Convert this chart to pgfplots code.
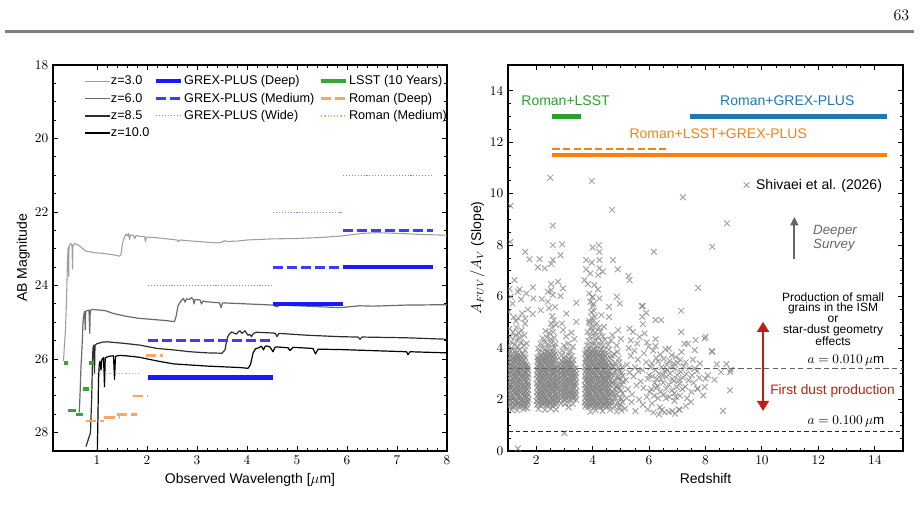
\documentclass[border=0pt]{standalone}
\usepackage{fontspec}
\setmainfont{Liberation Sans}
\usepackage{pgfplots}
\pgfplotsset{compat=1.18}
\usetikzlibrary{arrows.meta}
\definecolor{grexblue}{RGB}{25,25,255}
\definecolor{grexmed}{RGB}{60,60,255}
\definecolor{grexwide}{RGB}{130,130,255}
\definecolor{lsstgreen}{RGB}{55,165,55}
\definecolor{romanor}{RGB}{255,165,95}
\definecolor{tabblue}{RGB}{31,119,180}
\definecolor{taborange}{RGB}{255,127,14}
\definecolor{tabgreen}{RGB}{44,160,44}
\definecolor{darkred}{RGB}{190,30,20}
\pgfplotsset{
  myax/.style={scale only axis, axis line style={line width=0.8pt},
    every tick/.style={line width=0.7pt, black}, major tick length=4pt, minor tick length=2.2pt,
    tick align=inside, xtick pos=both, ytick pos=both,
    xticklabel pos=bottom, yticklabel pos=left,
    tick label style={font=\fontsize{10}{12}\selectfont},
    label style={font=\fontsize{10.5}{12}\selectfont}, ylabel shift=-3pt},
  z3/.style={color=black!38, line width=0.8pt, line join=round},
  z6/.style={color=black!58, line width=0.9pt, line join=round},
  z85/.style={color=black!82, line width=0.9pt, line join=round},
  z10/.style={color=black, line width=0.9pt, line join=round},
  gdeep/.style={color=grexblue, line width=3.2pt},
  gmed/.style={color=grexmed, line width=2pt, dash pattern=on 7.5pt off 3pt},
  gwide/.style={color=grexwide, line width=0.8pt, dash pattern=on 0.8pt off 1.4pt},
  lsst/.style={color=lsstgreen, line width=2.6pt},
  rdeep/.style={color=romanor, line width=2pt, dash pattern=on 7.5pt off 3pt},
  rmed/.style={color=romanor, line width=0.9pt, dash pattern=on 0.8pt off 1.6pt},
}
\begin{document}
\begin{tikzpicture}
\useasboundingbox (0,0) rectangle (690.75pt,394.5pt);
\draw[line width=1.9pt, black!50] (3.5pt,371pt) -- (685.5pt,371pt);
\node at (676pt,383pt) {\fontsize{13}{15}\selectfont $63$};
% ================= LEFT =================
\begin{axis}[myax, at={(39.75pt,345.75pt)}, anchor=north west,
  width=295.5pt, height=289.5pt,
  xmin=0.12, xmax=8, ymin=18, ymax=28.5, y dir=reverse,
  xtick={1,2,...,8}, minor x tick num=4,
  ytick={18,20,...,28}, minor y tick num=3,
  xlabel={Observed Wavelength [$\mu\mathrm{m}$]}, ylabel={AB Magnitude},
  legend columns=3, legend cell align=left,
  legend image code/.code={\draw[#1] (0pt,0pt) -- (18.75pt,0pt);},
  legend style={draw=none, fill=none, at={(0.078,0.975)}, anchor=north west,
    font=\fontsize{9.5}{11}\selectfont, inner sep=0pt, row sep=3.4pt,
    nodes={inner sep=0.6pt},
    /tikz/every even column/.append style={column sep=3pt}},
]
\addlegendimage{z3}\addlegendentry{z=3.0}
\addlegendimage{gdeep}\addlegendentry{GREX-PLUS (Deep)}
\addlegendimage{lsst,line width=3pt}\addlegendentry{LSST (10 Years)}
\addlegendimage{z6}\addlegendentry{z=6.0}
\addlegendimage{gmed}\addlegendentry{GREX-PLUS (Medium)}
\addlegendimage{rdeep}\addlegendentry{Roman (Deep)}
\addlegendimage{z85}\addlegendentry{z=8.5}
\addlegendimage{gwide}\addlegendentry{GREX-PLUS (Wide)}
\addlegendimage{rmed}\addlegendentry{Roman (Medium)}
\addlegendimage{z10}\addlegendentry{z=10.0}
% spectra
\addplot[z3] coordinates {(0.33,26.05) (0.35,25.6) (0.37,25.2) (0.39,24.4) (0.41,23.3) (0.42,23.0) (0.43,22.95) (0.435,23.75) (0.44,22.95) (0.46,22.88) (0.48,22.86) (0.50,22.9) (0.51,23.55) (0.52,22.9) (0.56,22.86) (0.62,22.89) (0.70,22.98) (0.77,23.06) (0.85,23.08) (0.97,23.11) (1.10,23.12) (1.20,23.14) (1.35,23.17) (1.45,23.2) (1.48,23.15) (1.51,22.85) (1.55,22.68) (1.58,22.6) (1.61,22.65) (1.63,22.58) (1.65,22.75) (1.67,22.62) (1.72,22.63) (1.76,22.72) (1.78,22.64) (1.85,22.66) (1.95,22.67) (1.97,22.8) (1.99,22.68) (2.2,22.7) (2.6,22.76) (2.63,22.81) (2.66,22.76) (3.0,22.8) (3.4,22.84) (3.5,22.82) (3.55,22.78) (3.6,22.8) (3.8,22.79) (4.0,22.76) (4.5,22.73) (5.0,22.72) (5.5,22.69) (5.9,22.65) (6.3,22.58) (6.6,22.56) (7.0,22.58) (7.5,22.61) (8.0,22.63)};
\addplot[z6] coordinates {(0.645,27.45) (0.66,27.0) (0.68,26.2) (0.70,25.7) (0.72,25.0) (0.74,24.76) (0.755,24.7) (0.765,25.2) (0.775,24.7) (0.80,24.68) (0.84,24.67) (0.855,25.3) (0.865,24.67) (0.91,24.65) (1.0,24.66) (1.16,24.68) (1.33,24.76) (1.56,24.83) (1.83,24.89) (2.1,24.92) (2.36,24.95) (2.55,24.98) (2.58,24.85) (2.62,24.55) (2.68,24.42) (2.73,24.35) (2.76,24.45) (2.79,24.36) (2.84,24.38) (2.89,24.33) (2.92,24.36) (2.94,24.5) (2.96,24.38) (3.06,24.39) (3.09,24.5) (3.12,24.42) (3.19,24.44) (3.45,24.47) (3.48,24.6) (3.51,24.47) (3.86,24.49) (4.52,24.53) (4.6,24.58) (4.65,24.53) (5.19,24.56) (5.86,24.6) (6.25,24.55) (6.52,24.56) (7.2,24.53) (8.0,24.52)};
\addplot[z85] coordinates {(0.78,28.38) (0.87,28.0) (0.895,27.0) (0.91,26.0) (0.92,25.7) (0.935,25.62) (0.95,26.4) (0.96,25.62) (1.0,25.58) (1.03,25.57) (1.1,25.54) (1.2,25.53) (1.53,25.57) (1.86,25.62) (2.2,25.71) (2.53,25.75) (2.86,25.8) (3.2,25.83) (3.5,25.84) (3.56,25.75) (3.6,25.45) (3.63,25.35) (3.69,25.26) (3.75,25.3) (3.79,25.32) (3.83,25.25) (3.86,25.23) (3.9,25.3) (3.96,25.23) (4.02,25.35) (4.06,25.33) (4.09,25.39) (4.13,25.3) (4.19,25.27) (4.52,25.29) (4.57,25.3) (4.6,25.39) (4.64,25.3) (5.19,25.35) (5.86,25.39) (6.22,25.4) (6.26,25.46) (6.3,25.4) (7.19,25.42) (8.0,25.46)};
\addplot[z10] coordinates {(1.005,28.6) (1.02,27.5) (1.03,26.57) (1.045,26.15) (1.06,26.05) (1.08,26.3) (1.10,26.0) (1.13,25.96) (1.15,26.75) (1.165,25.97) (1.19,25.95) (1.25,25.92) (1.33,25.91) (1.35,26.55) (1.37,25.92) (1.45,25.9) (1.58,25.91) (1.85,25.95) (2.2,26.05) (2.53,26.13) (3.2,26.19) (3.86,26.23) (4.02,26.25) (4.07,26.15) (4.12,25.84) (4.17,25.72) (4.22,25.7) (4.29,25.65) (4.33,25.75) (4.36,25.66) (4.39,25.64) (4.46,25.67) (4.52,25.8) (4.56,25.68) (4.59,25.67) (4.82,25.69) (4.86,25.77) (4.92,25.68) (5.32,25.71) (5.37,25.86) (5.42,25.73) (5.86,25.74) (6.52,25.77) (7.19,25.8) (7.22,25.88) (7.26,25.8) (8.0,25.83)};
% GREX-PLUS
\addplot[gwide] coordinates {(2.02,24.0) (4.52,24.0)};
\addplot[gwide] coordinates {(4.52,22.0) (5.92,22.0)};
\addplot[gwide] coordinates {(5.92,21.0) (7.72,21.0)};
\addplot[gmed] coordinates {(2.02,25.5) (4.52,25.5)};
\addplot[gmed] coordinates {(4.52,23.5) (5.92,23.5)};
\addplot[gmed] coordinates {(5.92,22.5) (7.72,22.5)};
\addplot[gdeep] coordinates {(2.02,26.5) (4.52,26.5)};
\addplot[gdeep] coordinates {(4.52,24.5) (5.92,24.5)};
\addplot[gdeep] coordinates {(5.92,23.5) (7.72,23.5)};
% LSST
\addplot[lsst] coordinates {(0.35,26.1) (0.43,26.1)};
\addplot[lsst] coordinates {(0.42,27.4) (0.58,27.4)};
\addplot[lsst] coordinates {(0.58,27.5) (0.72,27.5)};
\addplot[lsst] coordinates {(0.72,26.81) (0.85,26.81)};
\addplot[lsst] coordinates {(0.85,26.1) (0.95,26.1)};
% Roman
\addplot[rdeep] coordinates {(0.79,27.68) (1.15,27.68)};
\addplot[rdeep] coordinates {(1.15,27.59) (1.45,27.59)};
\addplot[rdeep] coordinates {(1.40,27.5) (1.80,27.5)};
\addplot[rdeep] coordinates {(1.71,27.0) (2.01,27.0)};
\addplot[rdeep] coordinates {(1.97,25.9) (2.32,25.9)};
\addplot[rmed] coordinates {(0.93,26.4) (1.85,26.4)};
\end{axis}
% ================= RIGHT =================
\begin{axis}[myax, at={(381pt,345.75pt)}, anchor=north west,
  width=296.25pt, height=289.5pt,
  xmin=1, xmax=15, ymin=0, ymax=15,
  xtick={2,4,...,14}, minor x tick num=3,
  ytick={0,2,...,14}, minor y tick num=3,
  xlabel={Redshift}, ylabel={$A_{FUV}/A_V$ (Slope)},
  clip marker paths=true,
  legend image code/.code={\draw[#1] plot coordinates {(0pt,0pt)};},
  legend style={draw=none, fill=none, at={(0.596,0.689)}, anchor=west,
    font=\fontsize{10.5}{12}\selectfont, inner sep=0pt,
    nodes={inner sep=0.6pt},
    /tikz/every odd column/.append style={column sep=4.5pt}},
]
\addplot[only marks, mark=x, mark size=3pt, color=black!48, opacity=0.74, mark options={line width=0.75pt}] coordinates {
(1.05,1.74) (1.17,1.70) (1.26,1.76) (1.39,1.71) (1.51,1.75) (1.62,1.69)
(1.03,1.89) (1.14,1.86) (1.28,1.90) (1.37,1.87) (1.49,1.91) (1.60,1.86) (1.70,1.90)
(1.06,2.02) (1.16,2.05) (1.27,2.01) (1.40,2.04) (1.50,2.02) (1.63,2.05) (1.72,2.01)
(1.02,2.20) (1.15,2.17) (1.26,2.21) (1.38,2.18) (1.52,2.20) (1.61,2.17) (1.71,2.21)
(1.05,2.34) (1.17,2.37) (1.29,2.33) (1.36,2.36) (1.48,2.35) (1.62,2.33) (1.70,2.37)
(1.03,2.51) (1.14,2.48) (1.27,2.52) (1.39,2.49) (1.51,2.53) (1.60,2.48) (1.72,2.51)
(1.06,2.65) (1.16,2.68) (1.28,2.64) (1.37,2.67) (1.49,2.65) (1.63,2.68) (1.71,2.64)
(1.02,2.83) (1.15,2.80) (1.26,2.84) (1.40,2.81) (1.50,2.83) (1.61,2.80) (1.70,2.84)
(1.05,2.97) (1.17,3.00) (1.29,2.96) (1.38,2.99) (1.52,2.97) (1.62,3.00) (1.72,2.96)
(1.03,3.14) (1.14,3.11) (1.27,3.15) (1.36,3.12) (1.48,3.14) (1.60,3.11) (1.71,3.15)
(1.06,3.28) (1.16,3.31) (1.28,3.27) (1.39,3.30) (1.51,3.28) (1.63,3.31) (1.70,3.27)
(1.02,3.46) (1.15,3.43) (1.26,3.47) (1.40,3.44) (1.50,3.46) (1.61,3.43)
(1.05,3.60) (1.17,3.63) (1.29,3.59) (1.37,3.62) (1.49,3.60) (1.62,3.63)
(1.03,3.78) (1.14,3.75) (1.28,3.79) (1.38,3.76) (1.52,3.78)
(1.06,3.91) (1.16,3.94) (1.27,3.90) (1.41,3.93) (1.60,3.92)
(1.09,1.81) (1.21,1.79) (1.33,1.82) (1.44,1.80) (1.56,1.78) (1.67,1.81)
(1.10,1.96) (1.22,1.98) (1.32,1.95) (1.45,1.97) (1.55,1.96) (1.66,1.94)
(1.08,2.12) (1.20,2.10) (1.34,2.13) (1.43,2.11) (1.57,2.12) (1.68,2.10)
(1.11,2.27) (1.21,2.29) (1.33,2.26) (1.44,2.28) (1.56,2.27) (1.67,2.25)
(1.09,2.43) (1.23,2.41) (1.32,2.44) (1.45,2.42) (1.55,2.43) (1.66,2.41)
(1.10,2.58) (1.20,2.60) (1.34,2.57) (1.43,2.59) (1.57,2.58) (1.68,2.56)
(1.08,2.74) (1.22,2.72) (1.33,2.75) (1.44,2.73) (1.56,2.74) (1.67,2.72)
(1.11,2.90) (1.21,2.92) (1.32,2.89) (1.45,2.91) (1.55,2.90) (1.66,2.88)
(1.09,3.05) (1.23,3.03) (1.34,3.06) (1.43,3.04) (1.57,3.05) (1.68,3.03)
(1.10,3.21) (1.20,3.23) (1.33,3.20) (1.44,3.22) (1.56,3.21) (1.67,3.19)
(1.08,3.37) (1.22,3.35) (1.32,3.38) (1.45,3.36) (1.55,3.37) (1.66,3.35)
(1.11,3.53) (1.21,3.55) (1.34,3.52) (1.43,3.54) (1.57,3.53)
(1.09,3.69) (1.23,3.67) (1.33,3.70) (1.44,3.68) (1.56,3.69)
(1.04,4.08) (1.22,4.12) (1.35,4.05) (1.55,4.10) (1.12,4.25) (1.30,4.30) (1.47,4.22) (1.66,4.18)
(1.08,4.42) (1.25,4.48) (1.42,4.40) (1.18,4.62) (1.38,4.58) (1.58,4.50) (1.05,4.75) (1.30,4.80)
(1.48,4.70) (1.12,1.60) (1.33,1.58) (1.55,1.62) (1.68,1.66)
(1.10,5.99) (1.16,5.73) (1.23,6.64) (1.35,6.19) (1.37,5.15) (1.46,5.89) (1.61,5.15) (1.61,7.74)
(1.76,7.45) (1.88,6.36) (1.90,5.93) (1.88,5.32) (1.09,9.53) (1.08,8.13) (1.02,5.40) (1.20,5.20)
(1.50,5.35) (1.28,5.05) (1.60,4.95) (1.70,5.50) (1.05,6.30) (1.35,0.10) (1.41,6.28) (1.65,6.12)
(2.08,1.63) (2.31,1.60) (2.52,1.64) (2.70,1.61)
(2.03,1.79) (2.15,1.76) (2.26,1.80) (2.37,1.77) (2.47,1.81) (2.58,1.76) (2.69,1.79)
(2.01,1.94) (2.12,1.97) (2.23,1.93) (2.36,1.96) (2.45,1.94) (2.56,1.97) (2.67,1.93) (2.79,1.96)
(2.04,2.13) (2.14,2.10) (2.25,2.14) (2.34,2.11) (2.47,2.13) (2.58,2.10) (2.69,2.14) (2.77,2.11)
(2.02,2.28) (2.13,2.31) (2.24,2.27) (2.36,2.30) (2.46,2.28) (2.57,2.31) (2.68,2.27) (2.80,2.30)
(2.05,2.47) (2.15,2.44) (2.26,2.48) (2.35,2.45) (2.48,2.47) (2.59,2.44) (2.70,2.48) (2.78,2.45)
(2.01,2.62) (2.12,2.65) (2.23,2.61) (2.37,2.64) (2.45,2.62) (2.56,2.65) (2.67,2.61) (2.79,2.64)
(2.04,2.81) (2.14,2.78) (2.25,2.82) (2.34,2.79) (2.47,2.81) (2.58,2.78) (2.69,2.82) (2.77,2.79)
(2.02,2.96) (2.13,2.99) (2.24,2.95) (2.36,2.98) (2.46,2.96) (2.57,2.99) (2.68,2.95) (2.80,2.98)
(2.05,3.15) (2.15,3.12) (2.26,3.16) (2.35,3.13) (2.48,3.15) (2.59,3.12) (2.70,3.16) (2.78,3.13)
(2.03,3.30) (2.12,3.33) (2.23,3.29) (2.37,3.32) (2.45,3.30) (2.56,3.33) (2.67,3.29) (2.79,3.32)
(2.06,3.49) (2.14,3.46) (2.25,3.50) (2.34,3.47) (2.47,3.49) (2.58,3.46) (2.69,3.50)
(2.04,3.64) (2.13,3.67) (2.24,3.63) (2.36,3.66) (2.46,3.64) (2.57,3.67) (2.68,3.63)
(2.11,3.83) (2.27,3.80) (2.38,3.84) (2.49,3.81) (2.60,3.83) (2.71,3.80)
(2.07,3.98) (2.21,4.01) (2.33,3.97) (2.45,4.00) (2.58,3.98) (2.66,4.02)
(2.08,1.87) (2.19,1.85) (2.30,1.88) (2.41,1.86) (2.52,1.87) (2.63,1.85) (2.74,1.88)
(2.07,2.04) (2.20,2.02) (2.31,2.05) (2.40,2.03) (2.53,2.04) (2.62,2.02) (2.73,2.05)
(2.09,2.21) (2.18,2.19) (2.29,2.22) (2.42,2.20) (2.51,2.21) (2.64,2.19) (2.75,2.22)
(2.08,2.38) (2.19,2.36) (2.30,2.39) (2.41,2.37) (2.52,2.38) (2.63,2.36) (2.74,2.39)
(2.07,2.55) (2.20,2.53) (2.31,2.56) (2.40,2.54) (2.53,2.55) (2.62,2.53) (2.73,2.56)
(2.09,2.72) (2.18,2.70) (2.29,2.73) (2.42,2.71) (2.51,2.72) (2.64,2.70) (2.75,2.73)
(2.08,2.89) (2.19,2.87) (2.30,2.90) (2.41,2.88) (2.52,2.89) (2.63,2.87) (2.74,2.90)
(2.07,3.06) (2.20,3.04) (2.31,3.07) (2.40,3.05) (2.53,3.06) (2.62,3.04) (2.73,3.07)
(2.09,3.23) (2.18,3.21) (2.29,3.24) (2.42,3.22) (2.51,3.23) (2.64,3.21) (2.75,3.24)
(2.08,3.40) (2.19,3.38) (2.30,3.41) (2.41,3.39) (2.52,3.40) (2.63,3.38)
(2.07,3.57) (2.20,3.55) (2.31,3.58) (2.40,3.56) (2.53,3.57) (2.62,3.55)
(2.18,3.74) (2.29,3.72) (2.42,3.75) (2.51,3.73) (2.64,3.74)
(2.15,4.18) (2.30,4.22) (2.42,4.15) (2.55,4.20) (2.68,4.17) (2.22,4.38) (2.38,4.42) (2.52,4.35)
(2.64,4.40) (2.47,4.58) (2.60,4.62) (2.33,4.66) (2.55,4.80) (2.63,5.08) (2.67,5.60) (2.57,5.24)
(2.41,5.80) (2.16,5.47) (2.53,4.95) (2.70,4.90)
(2.50,10.62) (2.59,8.76) (2.59,8.00) (2.12,7.45) (2.06,7.14) (2.30,7.10) (2.59,7.42) (2.53,7.27)
(2.77,6.58) (2.53,6.49) (2.53,6.25) (2.41,6.19) (2.59,6.06) (2.86,6.02) (2.86,7.61) (2.92,8.03)
(2.95,6.32) (2.20,5.90) (2.45,5.55)
(2.88,1.85) (3.02,1.82) (3.15,1.86) (3.30,1.83)
(2.86,2.02) (2.98,1.99) (3.09,2.03) (3.20,2.00) (3.31,2.02) (3.41,1.99)
(2.89,2.17) (2.99,2.20) (3.10,2.16) (3.21,2.19) (3.32,2.17) (3.40,2.20)
(2.87,2.36) (2.97,2.33) (3.08,2.37) (3.19,2.34) (3.29,2.36) (3.42,2.33)
(2.85,2.51) (2.96,2.54) (3.07,2.50) (3.18,2.53) (3.31,2.51) (3.39,2.54)
(2.88,2.70) (2.99,2.67) (3.11,2.71) (3.20,2.68) (3.30,2.70) (3.41,2.67)
(2.86,2.85) (2.97,2.88) (3.09,2.84) (3.21,2.87) (3.32,2.85) (3.40,2.88)
(2.89,3.04) (2.98,3.01) (3.10,3.05) (3.19,3.02) (3.29,3.04) (3.42,3.01)
(2.87,3.19) (2.99,3.22) (3.08,3.18) (3.20,3.21) (3.31,3.19) (3.39,3.22)
(2.85,3.38) (2.96,3.35) (3.11,3.39) (3.21,3.36) (3.30,3.38)
(2.88,3.53) (3.00,3.56) (3.09,3.52) (3.19,3.55) (3.32,3.53)
(2.90,3.72) (3.04,3.69) (3.16,3.73) (3.27,3.70)
(2.92,2.10) (3.03,2.08) (3.14,2.11) (3.25,2.09) (3.36,2.10)
(2.91,2.27) (3.04,2.25) (3.15,2.28) (3.24,2.26) (3.37,2.27)
(2.93,2.44) (3.02,2.42) (3.13,2.45) (3.26,2.43) (3.35,2.44)
(2.92,2.61) (3.03,2.59) (3.14,2.62) (3.25,2.60) (3.36,2.61)
(2.91,2.78) (3.04,2.76) (3.15,2.79) (3.24,2.77) (3.37,2.78)
(2.93,2.95) (3.02,2.93) (3.13,2.96) (3.26,2.94) (3.35,2.95)
(2.92,3.12) (3.03,3.10) (3.14,3.13) (3.25,3.11) (3.36,3.12)
(2.91,3.29) (3.04,3.27) (3.15,3.30) (3.24,3.28)
(2.93,3.46) (3.02,3.44) (3.13,3.47) (3.26,3.45)
(2.92,3.90) (3.07,3.95) (3.22,3.88) (2.98,4.10) (3.14,4.18) (3.30,4.05) (2.91,4.95) (3.07,5.34)
(3.42,5.02) (3.42,5.76) (3.06,4.45) (3.25,4.60) (3.35,4.35) (2.95,4.70) (3.15,1.70) (3.00,0.70)
(3.92,1.52) (4.10,1.58) (4.35,1.55) (4.62,1.60) (4.85,1.53) (5.02,1.57)
(3.74,1.73) (3.85,1.70) (3.95,1.74) (4.06,1.71) (4.17,1.75) (4.28,1.70) (4.39,1.73) (4.50,1.71) (4.61,1.74) (4.78,1.72) (4.95,1.70)
(3.72,1.88) (3.83,1.91) (3.94,1.87) (4.05,1.90) (4.16,1.88) (4.27,1.91) (4.38,1.87) (4.49,1.90) (4.60,1.88) (4.72,1.91) (4.88,1.87) (5.05,1.90)
(3.75,2.07) (3.84,2.04) (3.96,2.08) (4.04,2.05) (4.18,2.07) (4.26,2.04) (4.40,2.08) (4.48,2.05) (4.62,2.07) (4.80,2.05) (4.97,2.08)
(3.73,2.22) (3.82,2.25) (3.93,2.21) (4.07,2.24) (4.15,2.22) (4.29,2.25) (4.37,2.21) (4.51,2.24) (4.59,2.22) (4.73,2.25) (4.86,2.21) (5.06,2.24)
(3.76,2.41) (3.85,2.38) (3.95,2.42) (4.05,2.39) (4.17,2.41) (4.28,2.38) (4.39,2.42) (4.50,2.39) (4.61,2.41) (4.79,2.39) (4.94,2.42)
(3.72,2.56) (3.83,2.59) (3.94,2.55) (4.06,2.58) (4.16,2.56) (4.27,2.59) (4.38,2.55) (4.49,2.58) (4.60,2.56) (4.71,2.59) (4.87,2.55) (5.03,2.58)
(3.74,2.75) (3.84,2.72) (3.96,2.76) (4.04,2.73) (4.18,2.75) (4.26,2.72) (4.40,2.76) (4.48,2.73) (4.62,2.75) (4.78,2.73) (4.96,2.76)
(3.73,2.90) (3.82,2.93) (3.93,2.89) (4.07,2.92) (4.15,2.90) (4.29,2.93) (4.37,2.89) (4.51,2.92) (4.59,2.90) (4.74,2.93) (4.89,2.89) (5.07,2.92)
(3.75,3.09) (3.85,3.06) (3.95,3.10) (4.05,3.07) (4.17,3.09) (4.28,3.06) (4.39,3.10) (4.50,3.07) (4.61,3.09) (4.80,3.07) (4.98,3.10)
(3.72,3.24) (3.83,3.27) (3.94,3.23) (4.06,3.26) (4.16,3.24) (4.27,3.27) (4.38,3.23) (4.49,3.26) (4.60,3.24) (4.72,3.27) (4.90,3.23) (5.05,3.26)
(3.74,3.43) (3.84,3.40) (3.96,3.44) (4.04,3.41) (4.18,3.43) (4.26,3.40) (4.40,3.44) (4.48,3.41) (4.63,3.43) (4.81,3.41)
(3.76,3.58) (3.82,3.61) (3.93,3.57) (4.07,3.60) (4.15,3.58) (4.29,3.61) (4.37,3.57) (4.51,3.60) (4.66,3.58) (4.92,3.60)
(3.73,3.77) (3.85,3.74) (3.95,3.78) (4.05,3.75) (4.17,3.77) (4.28,3.74) (4.39,3.78) (4.52,3.75) (4.75,3.77)
(3.78,3.92) (3.86,3.95) (3.97,3.91) (4.06,3.94) (4.16,3.92) (4.30,3.95) (4.41,3.91) (4.58,3.94)
(3.80,4.11) (3.92,4.08) (4.03,4.12) (4.14,4.09) (4.26,4.11) (4.38,4.08) (4.55,4.12) (4.85,4.10)
(3.78,1.80) (3.89,1.78) (4.00,1.81) (4.11,1.79) (4.22,1.80) (4.33,1.78) (4.44,1.81) (4.55,1.79)
(3.77,1.97) (3.90,1.95) (4.01,1.98) (4.10,1.96) (4.23,1.97) (4.32,1.95) (4.45,1.98) (4.54,1.96)
(3.79,2.14) (3.88,2.12) (3.99,2.15) (4.12,2.13) (4.21,2.14) (4.34,2.12) (4.43,2.15) (4.56,2.13)
(3.78,2.31) (3.89,2.29) (4.00,2.32) (4.11,2.30) (4.22,2.31) (4.33,2.29) (4.44,2.32) (4.55,2.30)
(3.77,2.48) (3.90,2.46) (4.01,2.49) (4.10,2.47) (4.23,2.48) (4.32,2.46) (4.45,2.49) (4.54,2.47)
(3.79,2.65) (3.88,2.63) (3.99,2.66) (4.12,2.64) (4.21,2.65) (4.34,2.63) (4.43,2.66) (4.56,2.64)
(3.78,2.82) (3.89,2.80) (4.00,2.83) (4.11,2.81) (4.22,2.82) (4.33,2.80) (4.44,2.83) (4.55,2.81)
(3.77,2.99) (3.90,2.97) (4.01,3.00) (4.10,2.98) (4.23,2.99) (4.32,2.97) (4.45,3.00) (4.54,2.98)
(3.79,3.16) (3.88,3.14) (3.99,3.17) (4.12,3.15) (4.21,3.16) (4.34,3.14) (4.43,3.17) (4.56,3.15)
(3.78,3.33) (3.89,3.31) (4.00,3.34) (4.11,3.32) (4.22,3.33) (4.33,3.31) (4.44,3.34) (4.55,3.32)
(3.77,3.50) (3.90,3.48) (4.01,3.51) (4.10,3.49) (4.23,3.50) (4.32,3.48) (4.45,3.51)
(3.79,3.67) (3.88,3.65) (3.99,3.68) (4.12,3.66) (4.21,3.67) (4.34,3.65) (4.43,3.68)
(3.78,3.84) (3.89,3.82) (4.00,3.85) (4.11,3.83) (4.22,3.84) (4.33,3.82)
(4.66,1.95) (4.77,2.15) (4.68,2.32) (4.85,2.48) (4.70,2.68) (4.92,2.82) (4.66,2.98) (4.84,3.15)
(4.70,3.35) (4.95,3.45) (4.68,3.70) (4.88,3.85) (5.02,2.02) (5.00,2.35) (5.08,2.70) (5.02,3.02) (4.98,1.80)
(3.85,4.28) (4.00,4.25) (4.12,4.30) (4.30,4.27) (4.44,4.32) (3.90,4.45) (4.05,4.48) (4.20,4.42)
(4.36,4.46) (3.82,4.62) (3.98,4.66) (4.10,4.60) (4.28,4.64) (3.93,4.80) (4.04,4.84) (4.22,4.78)
(4.40,4.83) (3.88,4.98) (4.01,5.02) (4.15,4.96) (3.97,5.18) (4.08,5.22) (4.31,5.28) (3.95,5.40)
(4.04,5.45) (4.00,5.62) (3.92,5.80) (4.03,5.72) (3.99,5.98) (4.58,5.21) (4.58,5.60) (4.70,4.50)
(4.90,4.70) (4.65,4.30) (5.00,4.35) (4.96,5.73) (4.86,5.99) (4.72,7.42) (4.89,7.06) (4.69,9.37)
(4.36,6.97) (4.19,6.84) (4.24,7.42) (4.24,7.74) (4.22,8.00) (4.00,7.91) (3.97,10.49) (3.77,7.42)
(3.77,7.06) (3.97,7.32) (3.92,6.90) (3.71,6.64) (3.83,6.49) (4.06,6.45) (4.19,6.28) (3.88,6.12)
(4.00,5.99) (4.24,5.93) (3.88,5.06) (4.24,7.10)
(5.15,1.65) (5.20,2.05) (5.25,2.40) (5.18,2.75) (5.30,3.05) (5.22,3.35) (5.35,3.70) (5.28,4.00)
(5.40,2.20) (5.45,2.90) (5.50,3.25) (5.38,1.90) (5.55,2.55) (5.60,3.55) (5.48,3.90) (5.65,2.00)
(5.62,3.10) (5.70,2.70) (5.52,1.55) (5.27,6.80) (5.31,6.64) (5.31,4.76) (5.43,4.63) (5.66,4.43)
(5.74,5.63) (5.35,4.30) (5.58,4.18)
(5.78,1.80) (5.92,2.10) (5.80,2.45) (5.95,2.80) (5.76,3.15) (5.90,3.45) (5.82,3.80) (5.98,4.05)
(5.84,4.57) (5.92,4.22) (6.10,1.85) (6.18,2.15) (6.08,2.40) (6.20,2.65) (6.12,2.90) (6.22,3.15)
(6.10,3.40) (6.25,3.62) (6.15,3.90) (6.23,4.35) (6.23,4.08) (6.32,2.05) (6.40,2.30) (6.30,2.52)
(6.42,2.78) (6.35,3.00) (6.44,3.25) (6.32,3.48) (6.40,3.75) (6.45,1.60) (6.38,1.70) (6.52,2.20)
(6.60,2.42) (6.50,2.65) (6.62,2.88) (6.55,3.10) (6.63,3.35) (6.52,3.58) (6.58,3.95) (6.55,1.50)
(6.70,1.52) (6.72,2.10) (6.80,2.35) (6.70,2.58) (6.82,2.80) (6.75,3.02) (6.84,3.28) (6.72,3.50)
(6.80,3.72) (6.70,3.98) (6.92,1.45) (6.90,2.25) (6.98,2.48) (6.88,2.72) (7.00,2.95) (6.93,3.18)
(7.02,3.42) (6.95,3.65) (6.90,1.95) (7.08,1.60) (7.10,2.15) (7.18,2.40) (7.08,2.62) (7.20,2.85)
(7.12,3.08) (7.22,3.30) (7.10,3.55) (7.15,3.85) (7.30,1.75) (7.35,2.05) (7.28,2.50) (7.40,2.75)
(7.32,3.00) (7.42,3.22) (7.30,3.45) (7.38,4.17) (7.26,4.17) (7.50,2.30) (7.58,2.65) (7.52,2.95)
(7.62,3.20) (7.55,3.55) (7.48,1.90) (7.62,3.92) (7.65,4.31) (7.72,2.42) (7.78,2.85) (7.70,3.10)
(7.80,3.40) (7.14,4.63) (7.14,5.45) (6.23,5.09) (6.43,5.09) (5.90,5.37) (5.76,5.22) (5.78,4.93)
(5.78,5.63) (6.17,7.74) (7.20,9.86) (7.74,6.34) (8.24,7.94) (8.76,8.85) (7.97,4.37) (8.24,3.85)
(8.40,3.37) (8.55,3.07) (8.87,3.07) (8.87,2.36) (8.62,1.56) (8.08,2.94) (8.32,2.77) (8.00,2.81)
(7.92,2.16) (7.71,2.42) (7.97,2.49) (8.00,4.44) (8.22,3.88) (8.74,3.38) (8.89,3.16)
(5.95,1.62) (6.15,1.50) (6.35,1.42) (6.82,1.55) (7.05,1.62) (6.00,2.95) (6.05,3.25) (6.28,2.80)
(6.48,2.95) (6.65,3.15) (6.88,3.40) (7.05,2.75) (6.95,2.10) (6.60,2.05) (6.25,2.45) (6.02,2.30)
};
\addlegendentry{Shivaei et al. (2026)}
\addplot[black!62, line width=1.1pt, dash pattern=on 4pt off 2.4pt] coordinates {(1,3.2) (15,3.2)};
\addplot[black!85, line width=0.9pt, dash pattern=on 3.5pt off 2.2pt] coordinates {(1,0.77) (15,0.77)};
\addplot[tabgreen, line width=3.3pt] coordinates {(2.57,13) (3.6,13)};
\addplot[tabblue, line width=3.3pt] coordinates {(7.45,13) (14.43,13)};
\addplot[taborange, line width=3pt] coordinates {(2.57,11.5) (14.43,11.5)};
\addplot[taborange, line width=1.5pt, dash pattern=on 5.5pt off 2.5pt] coordinates {(2.57,11.72) (6.7,11.72)};
\node[text=tabgreen, font=\fontsize{10.5}{12}\selectfont] at (axis cs:3.04,13.62) {Roman+LSST};
\node[text=tabblue, font=\fontsize{10.5}{12}\selectfont] at (axis cs:10.9,13.62) {Roman+GREX-PLUS};
\node[text=taborange, font=\fontsize{10.5}{12}\selectfont] at (axis cs:8.45,12.32) {Roman+LSST+GREX-PLUS};
\draw[-{Triangle[width=6pt,length=6.5pt]}, line width=1.6pt, black!60] (axis cs:11.15,7.45) -- (axis cs:11.15,9.1);
\node[anchor=west, align=left, text=black!60, font=\fontsize{10}{10.5}\selectfont\itshape] at (axis cs:11.65,8.25) {Deeper\\Survey};
\node[align=center, font=\fontsize{9}{8}\selectfont] at (axis cs:12.52,5.12) {Production of small\\grains in the ISM\\or\\star-dust geometry\\effects};
\draw[{Triangle[width=9pt,length=7.5pt]}-{Triangle[width=9pt,length=7.5pt]}, line width=1.3pt, darkred] (axis cs:10.04,1.56) -- (axis cs:10.04,5.02);
\node[text=darkred, font=\fontsize{10.3}{12}\selectfont] at (axis cs:12.5,2.33) {First dust production};
\node[anchor=east, font=\fontsize{10}{12}\selectfont] at (axis cs:14.5,3.53) {$a = 0.010\,\mu\mathrm{m}$};
\node[anchor=east, font=\fontsize{10}{12}\selectfont] at (axis cs:14.5,1.13) {$a = 0.100\,\mu\mathrm{m}$};
\end{axis}
\end{tikzpicture}
\end{document}
